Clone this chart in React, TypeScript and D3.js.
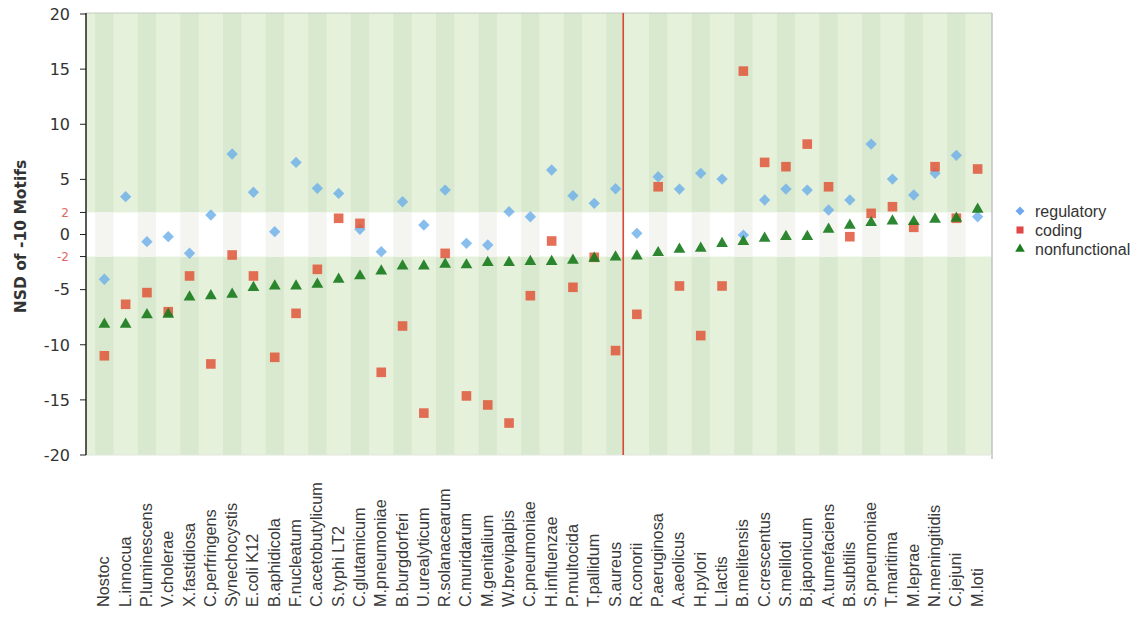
import React from "react";
import * as d3 from "d3";

const categories = [
  "Nostoc", "L.innocua", "P.luminescens", "V.cholerae", "X.fastidiosa", "C.perfringens",
  "Synechocystis", "E.coli K12", "B.aphidicola", "F.nucleatum", "C.acetobutylicum", "S.typhi LT2",
  "C.glutamicum", "M.pneumoniae", "B.burgdorferi", "U.urealyticum", "R.solanacearum", "C.muridarum",
  "M.genitalium", "W.brevipalpis", "C.pneumoniae", "H.influenzae", "P.multocida", "T.pallidum",
  "S.aureus", "R.conorii", "P.aeruginosa", "A.aeolicus", "H.pylori", "L.lactis", "B.melitensis",
  "C.crescentus", "S.meliloti", "B.japonicum", "A.tumefaciens", "B.subtilis", "S.pneumoniae",
  "T.maritima", "M.leprae", "N.meningitidis", "C.jejuni", "M.loti",
];

const regulatory = [
  -4.06, 3.43, -0.65, -0.2, -1.7, 1.77, 7.3, 3.83, 0.26, 6.54, 4.19, 3.73,
  0.47, -1.56, 2.97, 0.86, 4.03, -0.8, -0.95, 2.07, 1.61, 5.85, 3.52, 2.83,
  4.15, 0.11, 5.24, 4.12, 5.55, 5.03, -0.05, 3.13, 4.12, 4.03, 2.22, 3.13,
  8.2, 5.03, 3.58, 5.55, 7.18, 1.61,
];

const coding = [
  -11.0, -6.33, -5.27, -7.0, -3.76, -11.74, -1.86, -3.76, -11.14, -7.15, -3.16, 1.47,
  1.01, -12.5, -8.3, -16.2, -1.71, -14.64, -15.46, -17.1, -5.55, -0.59, -4.79, -2.07,
  -10.53, -7.24, 4.33, -4.67, -9.17, -4.67, 14.82, 6.54, 6.15, 8.2, 4.33, -0.2,
  1.92, 2.52, 0.65, 6.15, 1.47, 5.94,
];

const nonfunctional = [
  -8.05, -8.05, -7.2, -7.15, -5.58, -5.48, -5.33, -4.73, -4.58, -4.58, -4.43, -3.97,
  -3.67, -3.22, -2.77, -2.77, -2.61, -2.67, -2.46, -2.46, -2.37, -2.37, -2.25, -2.07,
  -1.95, -1.86, -1.56, -1.25, -1.16, -0.74, -0.56, -0.25, -0.1, -0.1, 0.56, 0.92,
  1.16, 1.31, 1.25, 1.47, 1.56, 2.37,
];

const yTicks = [20, 15, 10, 5, 0, -5, -10, -15, -20];
const yRedTicks = [2, -2];
const dividerAfter = "S.aureus";

const seriesNames = ["regulatory", "coding", "nonfunctional"];

export default function App() {
  const W = 1141;
  const H = 617;
  const plotLeft = 86;
  const plotRight = 992;
  const plotTop = 13;
  const plotBottom = 455;

  const x = d3.scaleBand<string>().domain(categories).range([93.7, 988.3]).padding(0);
  const bw = x.bandwidth();
  const cx = (c: string) => (x(c) as number) + bw / 2;
  const y = d3.scaleLinear().domain([-20, 20]).range([455, 14]);

  const squarePath = d3.symbol().type(d3.symbolSquare).size(92)()!;
  const diamondPath = d3.symbol().type(d3.symbolSquare).size(64)()!;
  const trianglePath = d3.symbol().type(d3.symbolTriangle).size(60)()!;

  const regColor = "#6aaeea";
  const codColor = "#e0563a";
  const nfColor = "#1b7c1f";

  const divIdx = categories.indexOf(dividerAfter);
  const divX = (x(categories[divIdx + 1]) as number) - 3;

  return (
    <svg width={W} height={H} style={{ position: "absolute", left: 0, top: 0 }}>
      {/* plot background */}
      <rect x={plotLeft} y={plotTop} width={plotRight - plotLeft} height={plotBottom - plotTop} fill="#e5f1db" />
      {categories.map((c, i) =>
        i % 2 === 0 ? (
          <rect key={"s" + c} x={cx(c) - bw * 0.43} y={plotTop} width={bw * 0.86} height={plotBottom - plotTop} fill="#d9e9cf" />
        ) : null
      )}
      {/* white band between -2 and 2 */}
      <rect x={plotLeft} y={y(2)} width={plotRight - plotLeft} height={y(-2) - y(2)} fill="#ffffff" />
      {categories.map((c, i) =>
        i % 2 === 0 ? (
          <rect key={"w" + c} x={cx(c) - bw * 0.43} y={y(2)} width={bw * 0.86} height={y(-2) - y(2)} fill="#f4f5f1" />
        ) : null
      )}
      {/* borders */}
      <line x1={plotLeft} x2={plotRight} y1={plotTop} y2={plotTop} stroke="#c4ccc0" strokeWidth={1} />
      <line x1={plotRight} x2={plotRight} y1={plotTop} y2={plotBottom + 4} stroke="#c0c0c0" strokeWidth={1.5} />
      <line x1={plotLeft} x2={plotRight} y1={plotBottom} y2={plotBottom} stroke="#e0e6dc" strokeWidth={1} />
      {/* divider */}
      <line x1={divX} x2={divX} y1={plotTop} y2={plotBottom} stroke="#d8412e" strokeWidth={1.5} />
      {/* y axis */}
      <line x1={plotLeft} x2={plotLeft} y1={plotTop} y2={plotBottom} stroke="#222" strokeWidth={1.5} />
      {yTicks.map((t) => (
        <g key={"t" + t}>
          <line x1={80} x2={plotLeft} y1={y(t)} y2={y(t)} stroke="#222" strokeWidth={1} />
          <text x={70} y={y(t)} dy="0.36em" textAnchor="end" fontFamily="DejaVu Sans" fontSize={16} fill="#333">
            {t}
          </text>
        </g>
      ))}
      {yRedTicks.map((t) => (
        <g key={"r" + t}>
          <line x1={80} x2={plotLeft} y1={y(t)} y2={y(t)} stroke="#222" strokeWidth={1} />
          <text x={69} y={y(t)} dy="0.36em" textAnchor="end" fontFamily="DejaVu Sans" fontSize={12} fill="#e06666">
            {t}
          </text>
        </g>
      ))}
      <text
        transform={`translate(21,${y(0) + 2}) rotate(-90)`}
        textAnchor="middle"
        dominantBaseline="central"
        fontFamily="DejaVu Sans"
        fontWeight="bold"
        fontSize={15.5}
        fill="#333"
      >
        NSD of -10 Motifs
      </text>
      {/* x labels */}
      {categories.map((c) => (
        <text
          key={"l" + c}
          transform={`translate(${cx(c) - 1},607) rotate(-90)`}
          textAnchor="start"
          dominantBaseline="central"
          fontFamily="Liberation Sans, Arial, sans-serif"
          fontSize={16.3}
          fill="#3a3a3a"
        >
          {c}
        </text>
      ))}
      {/* markers */}
      {categories.map((c, i) => (
        <path key={"g" + c} d={diamondPath} transform={`translate(${cx(c)},${y(regulatory[i])}) rotate(45)`} fill={regColor} opacity={0.8} />
      ))}
      {categories.map((c, i) => (
        <path key={"c" + c} d={squarePath} transform={`translate(${cx(c)},${y(coding[i])})`} fill={codColor} opacity={0.85} />
      ))}
      {categories.map((c, i) => (
        <path key={"n" + c} d={trianglePath} transform={`translate(${cx(c)},${y(nonfunctional[i]) + 1})`} fill={nfColor} opacity={0.92} />
      ))}
      {/* legend */}
      {seriesNames.map((s, i) => {
        const ly = 211 + i * 19;
        const mk =
          i === 0 ? (
            <path d={d3.symbol().type(d3.symbolSquare).size(40)()!} transform={`translate(1020,${ly}) rotate(45)`} fill="#6fa8ef" />
          ) : i === 1 ? (
            <path d={d3.symbol().type(d3.symbolSquare).size(50)()!} transform={`translate(1020,${ly})`} fill="#e04848" />
          ) : (
            <path d={d3.symbol().type(d3.symbolTriangle).size(40)()!} transform={`translate(1020,${ly})`} fill={nfColor} />
          );
        return (
          <g key={"lg" + s}>
            {mk}
            <text x={1035} y={ly} dy="0.35em" fontFamily="Liberation Sans, Arial, sans-serif" fontSize={16} fill="#333">
              {s}
            </text>
          </g>
        );
      })}
    </svg>
  );
}
